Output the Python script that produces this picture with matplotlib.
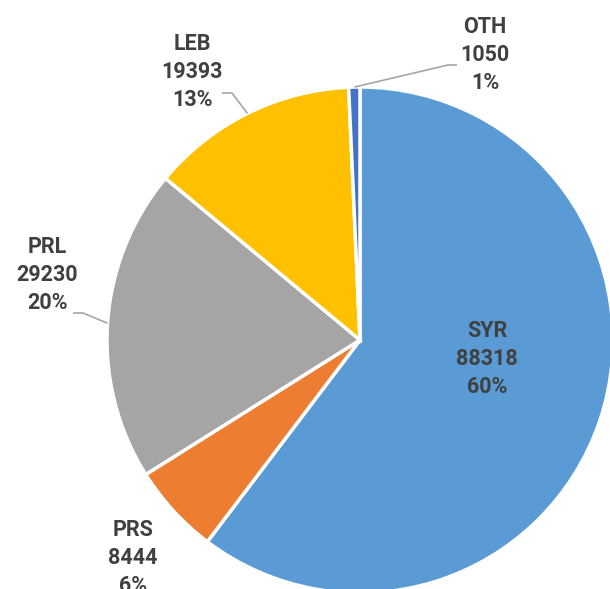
import numpy as np
import matplotlib
matplotlib.use('Agg')
import matplotlib.pyplot as plt

# Slice data (clockwise from 12 o'clock)
labels = ['SYR', 'PRS', 'PRL', 'LEB', 'OTH']
values = [88318, 8444, 29230, 19393, 1050]
colors = ['#5B9BD5', '#ED7D31', '#A5A5A5', '#FFC000', '#4472C4']

# Figure in pixel units (y up)
fig = plt.figure(figsize=(6.10, 5.89), dpi=100)
ax = fig.add_axes([0, 0, 1, 1])

cx, cy, r = 360, 249, 253
wedges, _ = ax.pie(values, colors=colors, startangle=90, counterclock=False,
                   center=(cx, cy), radius=r,
                   wedgeprops=dict(edgecolor='white', linewidth=2.5))
ax.set_xlim(0, 610)
ax.set_ylim(0, 589)
ax.set_aspect('equal')
ax.axis('off')

total = sum(values)
txt_color = '#404040'
line_color = '#A6A6A6'

# label layout: text centre, and leader elbow/end (None = no leader)
label_pos = {
    'SYR': ((487, 230), None),
    'PRS': ((133, 31), None),
    'PRL': ((47, 314), ((83, 276), (73, 276))),
    'LEB': ((192, 517), ((232, 496), (222, 496))),
    'OTH': ((485, 534), ((448, 524), (457, 524))),
}

for w, lab, val in zip(wedges, labels, values):
    pct = round(val / total * 100)
    (tx, ty), leader = label_pos[lab]
    ax.text(tx, ty, f'{lab}\n{val}\n{pct}%', ha='center', va='center',
            fontsize=15.5, fontweight='bold', family=['Roboto', 'DejaVu Sans'],
            color=txt_color, linespacing=1.33)
    if leader is not None:
        mid = np.deg2rad((w.theta1 + w.theta2) / 2)
        sx = cx + r * np.cos(mid)
        sy = cy + r * np.sin(mid)
        (ex, ey), (fx, fy) = leader
        ax.plot([sx, ex, fx], [sy, ey, fy], color=line_color, lw=1.2,
                solid_capstyle='butt')

fig.savefig('out.png', dpi=100)
